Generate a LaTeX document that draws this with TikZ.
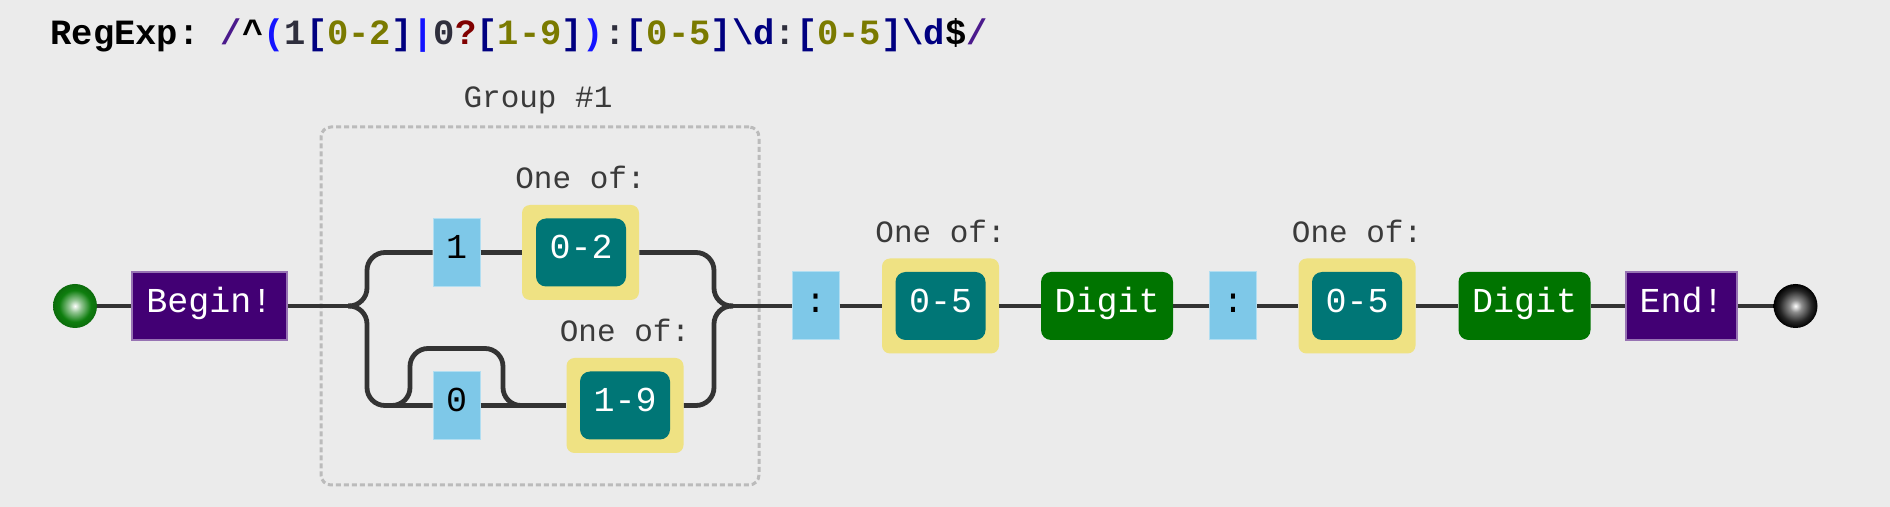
\documentclass[tikz,border=0pt]{standalone}
\usepackage{fontspec}
\setmonofont{Liberation Mono}
\definecolor{bg}{HTML}{EBEBEB}
\definecolor{railgray}{HTML}{333333}
\definecolor{notegray}{HTML}{3A3A3A}
\definecolor{litblue}{HTML}{7EC8E8}
\definecolor{khaki}{HTML}{EFE283}
\definecolor{rangeteal}{HTML}{007676}
\definecolor{digitgreen}{HTML}{007400}
\definecolor{indigo}{HTML}{420074}
\definecolor{groupgray}{HTML}{BBBBBB}
\definecolor{ballgreen}{HTML}{0E7E0E}
\definecolor{hslash}{HTML}{4B1A8C}
\definecolor{hblue}{HTML}{1414FF}
\definecolor{hdark}{HTML}{2F2F3D}
\definecolor{hnavy}{HTML}{000080}
\definecolor{holive}{HTML}{7A7A00}
\definecolor{hmaroon}{HTML}{800000}
\pgfdeclareradialshading{startball}{\pgfpoint{0bp}{0bp}}{color(0bp)=(white); color(7bp)=(ballgreen!45!white); color(18bp)=(ballgreen); color(25bp)=(ballgreen!85!black); color(50bp)=(ballgreen!85!black)}
\pgfdeclareradialshading{endball}{\pgfpoint{0bp}{0bp}}{color(0bp)=(white); color(7bp)=(black!45); color(18bp)=(black!85); color(25bp)=(black); color(50bp)=(black)}
\begin{document}
\begin{tikzpicture}[x=0.5pt,y=-0.5pt,
    rail/.style={draw=railgray,line width=2.4pt,rounded corners=9pt},
    box/.style={inner sep=0pt,minimum height=34pt,text height=0.64em,text depth=0pt,
      font=\ttfamily\fontsize{17.5pt}{20pt}\selectfont},
    lit/.style={box,fill=litblue,draw=litblue!60!white,line width=0.5pt,minimum width=23.5pt},
    anchorbox/.style={box,fill=indigo,draw=indigo!55!white,line width=0.75pt,text=white},
    setbox/.style={fill=khaki,rounded corners=4pt,inner sep=0pt,minimum width=58.5pt,minimum height=47.5pt},
    rangebox/.style={box,fill=rangeteal,rounded corners=5pt,text=white,minimum width=45pt},
    digitbox/.style={box,fill=digitgreen,rounded corners=5pt,text=white,minimum width=66pt},
    note/.style={anchor=base,text=notegray,inner sep=0pt,font=\ttfamily\fontsize{15.5pt}{18pt}\selectfont},
    ball/.style={circle,inner sep=0pt,minimum size=22pt,shade}]
  \fill[bg] (0,0) rectangle (1890,507);
  % the expression
  \node[anchor=base west,inner sep=0pt,font=\ttfamily\bfseries\fontsize{17.75pt}{20pt}\selectfont] (regexp) at (50,45)
  {RegExp:~\textcolor{hslash}{/}\textasciicircum\textcolor{hblue}{(}\textcolor{hdark}{1}\textcolor{hnavy}{[}\textcolor{holive}{0-2}\textcolor{hnavy}{]}\textcolor{hblue}{|}\textcolor{hdark}{0}\textcolor{hmaroon}{?}\textcolor{hnavy}{[}\textcolor{holive}{1-9}\textcolor{hnavy}{]}\textcolor{hblue}{)}\textcolor{hdark}{:}\textcolor{hnavy}{[}\textcolor{holive}{0-5}\textcolor{hnavy}{]\textbackslash d}\textcolor{hdark}{:}\textcolor{hnavy}{[}\textcolor{holive}{0-5}\textcolor{hnavy}{]\textbackslash d}\$\textcolor{hslash}{/}};
  % group #1
  \node[draw=groupgray,line width=1.5pt,dash pattern=on 2.5pt off 1.5pt,rounded corners=5pt,
    minimum width=219pt,minimum height=179pt] (group) at (540,306) {};
  \node[note] (grouplabel) at (538,108) {Group \#1};
  \node[ball,shading=startball] (start) at (75,306) {};
  \node[anchorbox,minimum width=77.5pt] (begin) at (209.5,306) {Begin!};
  \node[lit] (lit1) at (456.5,252.5) {1};
  \node[setbox] (set02) at (580.5,252.5) {};
  \node[rangebox] (range02) at (581,252.5) {0-2};
  \node[note] (oneof02) at (580.5,189) {One of:};
  \node[lit] (lit0) at (456.5,405.5) {0};
  \node[setbox] (set19) at (625,405.5) {};
  \node[rangebox] (range19) at (625,405.5) {1-9};
  \node[note] (oneof19) at (625,342) {One of:};
  \node[lit] (colon1) at (815.5,306) {:};
  \node[setbox] (set05a) at (940.5,306) {};
  \node[rangebox] (range05a) at (940.5,306) {0-5};
  \node[note] (oneof05a) at (940.5,243) {One of:};
  \node[digitbox] (digit1) at (1107,306) {Digit};
  \node[lit] (colon2) at (1233,306) {:};
  \node[setbox] (set05b) at (1357,306) {};
  \node[rangebox] (range05b) at (1357,306) {0-5};
  \node[note] (oneof05b) at (1357,243) {One of:};
  \node[digitbox] (digit2) at (1524.5,306) {Digit};
  \node[anchorbox,minimum width=55.5pt] (endbox) at (1681.5,306) {End!};
  \node[ball,shading=endball] (finish) at (1795.5,306) {};
  \coordinate (split) at (348,306);
  \coordinate (merge) at (733,306);
  \coordinate (optin) at (390,405.5);
  \coordinate (optout) at (522,405.5);
  % rails
  \draw[rail] (start) -- (begin);
  \draw[rail] (begin) -- (split);
  \draw[rail] (split) -- ++(19,0) |- (lit1);
  \draw[rail] (split) -- ++(19,0) |- (lit0);
  \draw[rail] (lit1) -- (set02);
  \draw[rail] (lit0) -- (set19);
  \draw[rail] (optin) -- ++(20,0) -- ++(0,-57) -- ++(93,0) -- ++(0,57) -- (optout);
  \draw[rail] (merge) -- ++(-19,0) |- (set02);
  \draw[rail] (merge) -- ++(-19,0) |- (set19);
  \draw[rail] (merge) -- (colon1);
  \draw[rail] (colon1) -- (set05a);
  \draw[rail] (set05a) -- (digit1);
  \draw[rail] (digit1) -- (colon2);
  \draw[rail] (colon2) -- (set05b);
  \draw[rail] (set05b) -- (digit2);
  \draw[rail] (digit2) -- (endbox);
  \draw[rail] (endbox) -- (finish);
\end{tikzpicture}
\end{document}
